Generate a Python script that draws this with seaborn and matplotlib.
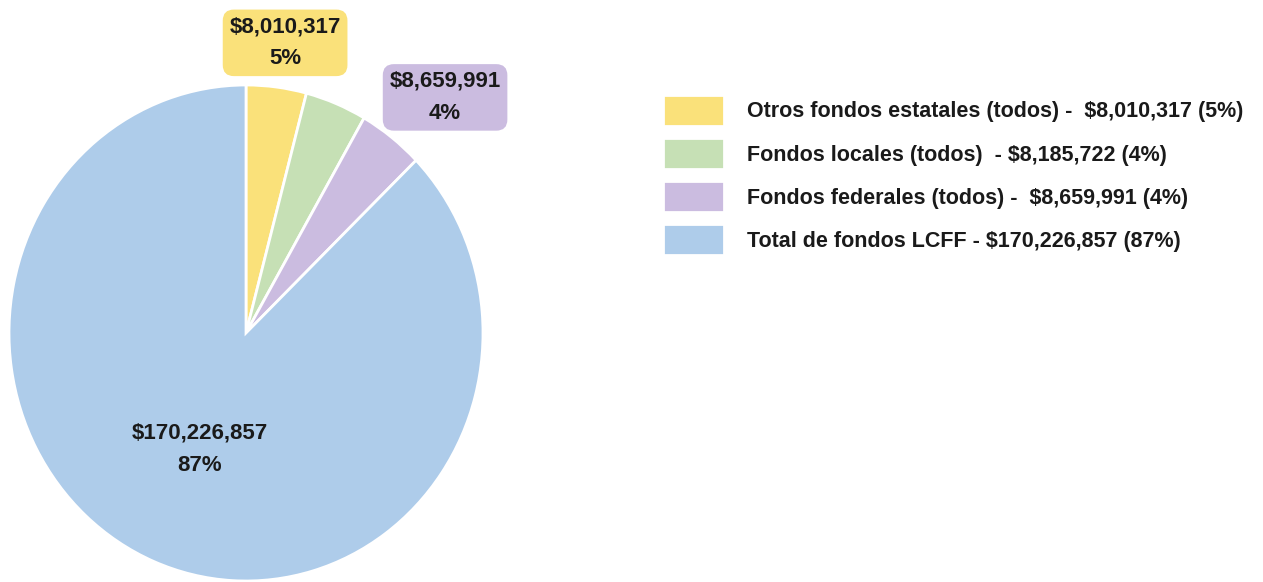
import matplotlib
matplotlib.use("Agg")
import matplotlib.pyplot as plt
import seaborn as sns

categories = ["Otros fondos estatales (todos)", "Fondos locales (todos)",
              "Fondos federales (todos)", "Total de fondos LCFF"]
values = [8010317, 8185722, 8659991, 170226857]
percents = ["5%", "4%", "4%", "87%"]
legend_labels = [
    "Otros fondos estatales (todos) -  $8,010,317 (5%)",
    "Fondos locales (todos)  - $8,185,722 (4%)",
    "Fondos federales (todos) -  $8,659,991 (4%)",
    "Total de fondos LCFF - $170,226,857 (87%)",
]
colors = ["#FAE17A", "#C6E0B5", "#CBBCE0", "#AECCEA"]

sns.set_theme(style="white")
plt.rcParams['font.family'] = ['Liberation Sans', 'DejaVu Sans']

W, H = 1263, 582
fig = plt.figure(figsize=(W / 100, H / 100), dpi=100)

cx, cy, rx, ry = 246, 333, 237, 248
pad = 1.05
ax = fig.add_axes([(cx - rx * pad) / W, (H - cy - ry * pad) / H,
                   2 * rx * pad / W, 2 * ry * pad / H])
wedges, _ = ax.pie(values, colors=colors, startangle=90, counterclock=False,
                   wedgeprops=dict(edgecolor="white", linewidth=2))
ax.set_aspect("auto")
ax.set_xlim(-pad, pad)
ax.set_ylim(-pad, pad)
ax.axis("off")

def money(v):
    return "${:,}".format(v)

# labels
ax.text(0.165, 1.17, money(values[0]) + "\n" + percents[0], ha="center", va="center",
        fontsize=16, fontweight="bold", color="#1a1a1a", linespacing=1.7,
        bbox=dict(boxstyle="round,pad=0.3,rounding_size=0.5", fc=colors[0], ec="none"))
ax.text(0.84, 0.95, money(values[2]) + "\n" + percents[2], ha="center", va="center",
        fontsize=16, fontweight="bold", color="#1a1a1a", linespacing=1.7,
        bbox=dict(boxstyle="round,pad=0.3,rounding_size=0.5", fc=colors[2], ec="none"))
ax.text(-0.194, -0.47, money(values[3]) + "\n" + percents[3], ha="center", va="center",
        fontsize=16, fontweight="bold", color="#1a1a1a", linespacing=1.7)

fig.legend(wedges, legend_labels, loc="upper left",
           bbox_to_anchor=(663 / W, 1 - 95 / H), frameon=False,
           prop=dict(size=15.5, weight="bold"), labelcolor="#1a1a1a",
           handlelength=2.84, handleheight=1.84, handletextpad=1.07,
           labelspacing=0.56, borderpad=0, borderaxespad=0)

fig.savefig("out.png", dpi=100, facecolor="white")
